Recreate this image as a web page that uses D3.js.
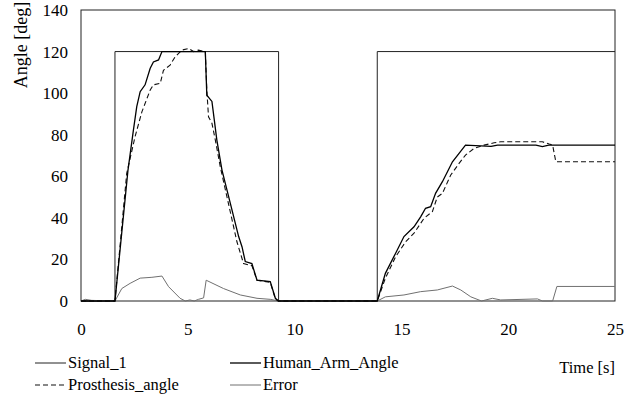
<!DOCTYPE html>
<html>
<head>
<meta charset="utf-8">
<script src="https://cdn.jsdelivr.net/npm/d3@7"></script>
<style>
  body { margin: 0; background: #fff; }
  svg { display: block; }
  svg text { font-family: "Liberation Serif", "Times New Roman", Times, Tinos, "DejaVu Serif", "Noto Serif", serif; }
</style>
</head>
<body>
<div id="svg"></div>
<script>
// datos: [tiempo (s), angulo (deg)]
const signal_1 = [[0,0],[1.59,0],[1.59,120],[9.25,120],[9.25,0],[13.87,0],[13.87,120],[25,120]];

const human_arm = [[0,0],[1.59,0],[2.2,63],[2.45,82],[2.61,93.5],[2.77,100.7],[3.0,104],[3.24,112],
  [3.39,115],[3.63,116],[3.79,120],[5.82,120],[5.89,99],[6.13,96],[6.36,77.4],[6.6,63],[7.0,46.6],
  [7.38,31],[7.54,26],[7.69,19],[8.0,18],[8.24,10],[8.86,9.3],[9.1,1.3],[9.24,0],[13.87,0],
  [14.25,13.3],[14.73,23],[15.12,31],[15.59,35.7],[15.9,40.5],[16.13,44.6],[16.37,45.4],[16.6,51.8],
  [16.92,57.4],[17.39,67],[17.7,71],[18.0,75],[19.2,74.4],[19.5,75],[21.3,75],[21.6,74.3],[21.9,75],[25,75]];

const prosthesis = [[0,0],[1.59,0],[2.14,61.4],[2.53,79],[2.85,91],[3.24,101.5],[3.39,104],[3.71,104.7],
  [3.86,111],[4.17,113.5],[4.41,117.5],[4.72,120.7],[5.03,121.5],[5.27,120],[5.5,120.7],[5.82,120],
  [5.89,101.5],[5.97,88.6],[6.13,85.5],[6.29,77.4],[6.52,64.6],[7.3,28.5],[7.61,18],[8.0,17],[8.24,10],
  [8.86,9],[9.1,1],[9.24,0],[13.87,0],[14.25,11],[14.73,21.3],[15.2,28.5],[15.59,32.6],[16.06,39.8],
  [16.45,43],[16.68,50],[16.92,51.8],[17.31,60.6],[17.7,66.2],[18.0,70.2],[18.4,73.4],[18.87,75],
  [19.34,76.1],[19.65,76.6],[21.6,76.6],[21.92,75.5],[22.08,75],[22.23,67],[25,67]];

const error = [[0,0],[0.2,0.8],[0.5,0.3],[1.59,0],[1.91,6],[2.3,8.5],[2.77,11],[3.32,11.4],[3.79,12],
  [4.1,6.9],[4.64,1.3],[4.88,0],[5.1,0.5],[5.3,0],[5.5,0.8],[5.74,1.5],[5.86,10],[6.67,6],[7.46,2.9],
  [8.24,1.3],[8.86,0.8],[9.24,0],[13.87,0],[14.25,2],[15.12,2.9],[15.9,4.5],[16.68,5.3],[17.39,7.2],
  [17.78,5.3],[18.25,2],[18.75,0],[19.26,1.3],[19.65,0.5],[21.37,1],[21.6,0],[22.08,0],[22.28,7],[25,7]];

const xTicks = [0, 5, 10, 15, 20, 25];
const yTicks = [0, 20, 40, 60, 80, 100, 120, 140];

const width = 626, height = 394;
const margin = { top: 10, right: 11, bottom: 93, left: 81 };
const fuente = '"Liberation Serif", "Times New Roman", Times, Tinos, "DejaVu Serif", "Noto Serif", serif';

const svg = d3.select("#svg").append("svg")
  .attr("width", width)
  .attr("height", height)
  .attr("font-family", fuente);

const x = d3.scaleLinear().domain([0, 25]).range([margin.left, width - margin.right]);
const y = d3.scaleLinear().domain([0, 140]).range([height - margin.bottom, margin.top]);

// ejes
svg.append("g")
  .attr("transform", `translate(${margin.left},0)`)
  .call(d3.axisLeft(y).tickValues(yTicks).tickSize(0).tickPadding(13))
  .call(g => g.select(".domain").remove())
  .attr("font-family", fuente)
  .selectAll("text")
  .attr("font-size", 17)
  .attr("fill", "#000");

svg.append("g")
  .attr("transform", `translate(0,${height - margin.bottom})`)
  .call(d3.axisBottom(x).tickValues(xTicks).tickSize(0).tickPadding(22))
  .call(g => g.select(".domain").remove())
  .attr("font-family", fuente)
  .selectAll("text")
  .attr("font-size", 17)
  .attr("fill", "#000");

// marco del area
svg.append("rect")
  .attr("x", x(0)).attr("y", y(140))
  .attr("width", x(25) - x(0)).attr("height", y(0) - y(140))
  .attr("fill", "none").attr("stroke", "#222").attr("stroke-width", 1);

svg.append("text")
  .attr("transform", `translate(27,${45}) rotate(-90)`)
  .attr("text-anchor", "middle")
  .attr("font-size", 18)
  .text("Angle [deg]");

const line = d3.line().x(d => x(d[0])).y(d => y(d[1]));

const series = [
  { name: "Signal_1", data: signal_1, color: "#222", width: 1, dash: null },
  { name: "Error", data: error, color: "#707070", width: 1, dash: null },
  { name: "Prosthesis_angle", data: prosthesis, color: "#111", width: 1.1, dash: "5,3" },
  { name: "Human_Arm_Angle", data: human_arm, color: "#000", width: 1.3, dash: null },
];

svg.append("g")
  .selectAll("path")
  .data(series)
  .join("path")
  .attr("d", d => line(d.data))
  .attr("fill", "none")
  .attr("stroke", d => d.color)
  .attr("stroke-width", d => d.width)
  .attr("stroke-dasharray", d => d.dash);

// leyenda
const legend = [
  { s: series[0], lx: 35, ly: 363 },
  { s: series[2], lx: 35, ly: 385 },
  { s: series[3], lx: 230, ly: 363 },
  { s: series[1], lx: 230, ly: 385 },
];
const lg = svg.append("g").selectAll("g").data(legend).join("g");
lg.append("line")
  .attr("x1", d => d.lx).attr("x2", d => d.lx + 31)
  .attr("y1", d => d.ly).attr("y2", d => d.ly)
  .attr("stroke", d => d.s.color)
  .attr("stroke-width", d => d.s.width)
  .attr("stroke-dasharray", d => d.s.dash);
lg.append("text")
  .attr("x", d => d.lx + 33)
  .attr("y", d => d.ly + 5)
  .attr("font-size", 16.5)
  .text(d => d.s.name);

svg.append("text")
  .attr("x", 615).attr("y", 373)
  .attr("text-anchor", "end")
  .attr("font-size", 16.5)
  .text("Time [s]");
</script>
</body>
</html>
